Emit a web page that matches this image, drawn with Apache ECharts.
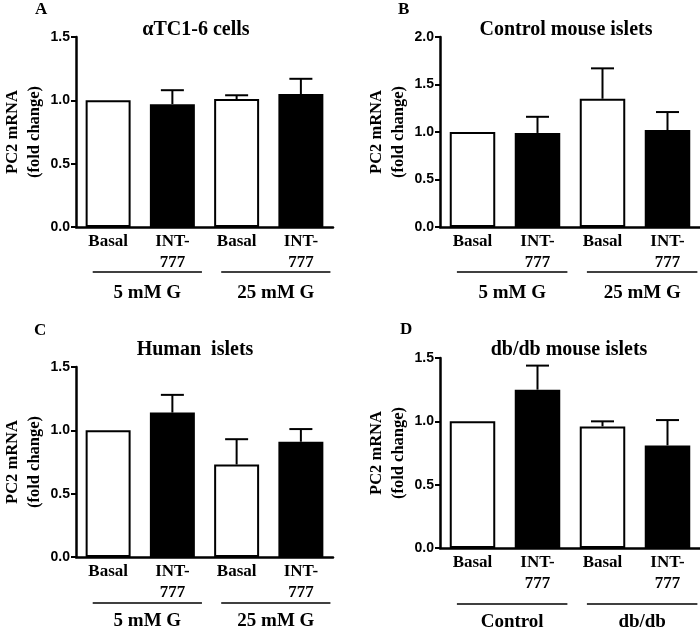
<!DOCTYPE html>
<html>
<head>
<meta charset="utf-8">
<script src="https://cdn.jsdelivr.net/npm/echarts@6/dist/echarts.min.js"></script>
<style>
  html, body { margin: 0; padding: 0; background: #fff; }
  #chart { width: 700px; height: 629px; }
</style>
</head>
<body>
<div id="chart"></div>
<script>
// ---------- data ----------
const categories = ['Basal', 'INT-\n777', 'Basal', 'INT-\n777'];
const panelLetters = ['A', 'B', 'C', 'D'];
const panelTitles = ['αTC1-6 cells', 'Control mouse islets', 'Human  islets', 'db/db mouse islets'];
const groupLabelsA = ['5 mM G', '25 mM G'];
const groupLabelsB = ['5 mM G', '25 mM G'];
const groupLabelsC = ['5 mM G', '25 mM G'];
const groupLabelsD = ['Control', 'db/db'];
const yAxisTitle = 'PC2 mRNA\n(fold change)';

const meansA = [1.00, 0.97, 1.01, 1.05];
const upperA = [1.00, 1.08, 1.04, 1.17];
const meansB = [1.00, 0.99, 1.35, 1.02];
const upperB = [1.00, 1.16, 1.67, 1.21];
const meansC = [1.00, 1.14, 0.73, 0.91];
const upperC = [1.00, 1.28, 0.93, 1.01];
const meansD = [1.00, 1.25, 0.96, 0.81];
const upperD = [1.00, 1.44, 1.00, 1.01];

const yMaxes = [1.5, 2.0, 1.5, 1.5];
const yInterval = 0.5;
const fills = ['#ffffff', '#000000', '#ffffff', '#000000'];

// ---------- layout ----------
const grids = [
  { left: 76, top: 37, width: 257, height: 190 },
  { left: 440, top: 37, width: 260, height: 190 },
  { left: 76, top: 367, width: 257, height: 190 },
  { left: 440, top: 358, width: 260, height: 190 }
];
const letterPos = [[35, 1], [398, 1], [34, 322], [400, 321]];
const titlePos = [[196, 20], [566, 20], [195, 340], [569, 340]];
const groupOffset = [45, 45, 46, 56];
const groupTextOffset = [21, 21, 18, 18];

const SERIF = '"Liberation Serif", "Times New Roman", serif';
const SANS = '"Liberation Sans", Arial, sans-serif';

const panels = [
  { means: meansA, upper: upperA, groups: groupLabelsA },
  { means: meansB, upper: upperB, groups: groupLabelsB },
  { means: meansC, upper: upperC, groups: groupLabelsC },
  { means: meansD, upper: upperD, groups: groupLabelsD }
];

const chart = echarts.init(document.getElementById('chart'), null, { renderer: 'canvas' });

const option = {
  backgroundColor: '#fff',
  animation: false,
  title: [],
  grid: [],
  xAxis: [],
  yAxis: [],
  series: []
};

panels.forEach((p, i) => {
  option.title.push({
    text: panelLetters[i], left: letterPos[i][0], top: letterPos[i][1], padding: 0,
    textStyle: { fontFamily: SERIF, fontWeight: 'bold', fontSize: 17, color: '#000' }
  });
  option.title.push({
    text: panelTitles[i], left: titlePos[i][0], top: titlePos[i][1], textAlign: 'center', padding: 0,
    textStyle: { fontFamily: SERIF, fontWeight: 'bold', fontSize: 20, color: '#000' }
  });
  option.grid.push(Object.assign({ containLabel: false }, grids[i]));
  option.xAxis.push({
    type: 'category', gridIndex: i, data: categories,
    axisLine: { show: true, lineStyle: { color: '#000', width: 2.5 } },
    axisTick: { show: false },
    axisLabel: {
      interval: 0, margin: 4, color: '#000', fontFamily: SERIF, fontWeight: 'bold',
      fontSize: 17, lineHeight: 21
    },
    splitLine: { show: false }
  });
  option.yAxis.push({
    type: 'value', gridIndex: i, min: 0, max: yMaxes[i], interval: yInterval,
    name: yAxisTitle, nameLocation: 'middle', nameRotate: 90, nameGap: 30,
    nameTextStyle: { fontFamily: SERIF, fontWeight: 'bold', fontSize: 16.5, color: '#000', lineHeight: 22 },
    axisLine: { show: true, lineStyle: { color: '#000', width: 2.5 } },
    axisTick: { show: true, length: 5, lineStyle: { color: '#000', width: 2 } },
    axisLabel: {
      margin: 6, color: '#000', fontFamily: SANS, fontWeight: 'bold', fontSize: 14,
      formatter: v => v.toFixed(1)
    },
    splitLine: { show: false }
  });
  // bars
  option.series.push({
    type: 'bar', xAxisIndex: i, yAxisIndex: i, barWidth: '70%',
    data: p.means.map((v, k) => ({
      value: v,
      itemStyle: { color: fills[k], borderColor: '#000', borderWidth: 2 }
    })),
    z: 2
  });
  // error bars (upper only)
  option.series.push({
    type: 'custom', xAxisIndex: i, yAxisIndex: i, z: 1,
    data: p.means.map((v, k) => [k, v, p.upper[k]]),
    encode: { x: 0, y: [1, 2] },
    renderItem: (params, api) => {
      const k = api.value(0);
      const lo = api.coord([k, api.value(1)]);
      const hi = api.coord([k, api.value(2)]);
      if (Math.abs(lo[1] - hi[1]) < 1) return null;
      const half = 11.5;
      const style = { stroke: '#000', lineWidth: 2 };
      return {
        type: 'group',
        children: [
          { type: 'line', shape: { x1: lo[0], y1: lo[1], x2: hi[0], y2: hi[1] }, style },
          { type: 'line', shape: { x1: hi[0] - half, y1: hi[1], x2: hi[0] + half, y2: hi[1] }, style }
        ]
      };
    }
  });
  // group brackets below axis
  const off = groupOffset[i];
  const toff = groupTextOffset[i];
  option.series.push({
    type: 'custom', xAxisIndex: i, yAxisIndex: i, clip: false, silent: true,
    data: [[0, 0, 1], [2, 0, 3]],
    encode: { x: [0, 2], y: 1 },
    renderItem: (params, api) => {
      const a = api.coord([api.value(0), 0]);
      const b = api.coord([api.value(2), 0]);
      const w = api.size([1, 0])[0];
      const x0 = a[0] - 0.24 * w;
      const x1 = b[0] + 0.46 * w;
      const y = a[1] + off;
      return {
        type: 'group',
        children: [
          { type: 'line', shape: { x1: x0, y1: y, x2: x1, y2: y }, style: { stroke: '#000', lineWidth: 1.5 } },
          {
            type: 'text',
            style: {
              x: (x0 + x1) / 2, y: y + toff, text: p.groups[params.dataIndex],
              align: 'center', verticalAlign: 'middle',
              font: 'bold 19px ' + SERIF, fill: '#000'
            }
          }
        ]
      };
    }
  });
});

chart.setOption(option);
</script>
</body>
</html>
